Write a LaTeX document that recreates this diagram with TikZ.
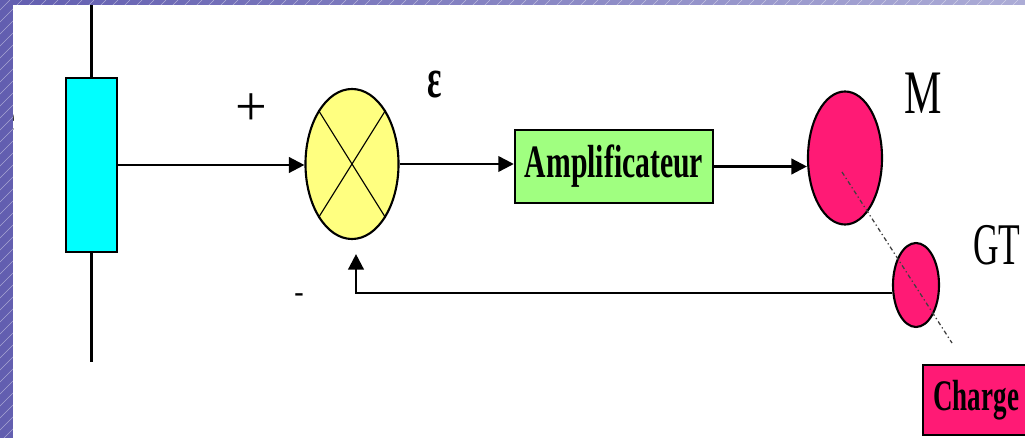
\documentclass[tikz,border=0pt]{standalone}
\usepackage{fontspec}
\setmainfont{Liberation Serif}
\usetikzlibrary{shapes.geometric,arrows.meta,positioning}

\definecolor{framedark}{RGB}{98,94,176}
\definecolor{framelight}{RGB}{172,172,214}
\definecolor{sensorcyan}{RGB}{0,255,255}
\definecolor{sumyellow}{RGB}{255,255,128}
\definecolor{ampgreen}{RGB}{160,255,128}
\definecolor{motorpink}{RGB}{255,26,117}

\newcommand{\squeeze}[2][0.7]{\scalebox{#1}[1]{#2}}

\begin{document}
\begin{tikzpicture}[
    x=0.025cm, y=-0.025cm,
    block/.style={rectangle, draw, line width=1.7pt, inner sep=0pt},
    disc/.style={ellipse, draw, line width=1.5pt, inner sep=0pt},
    line/.style={draw, line width=1.7pt, -{Triangle[length=11pt,width=11pt]}},
    wire/.style={draw, line width=1.6pt},
    shaft/.style={draw, line width=0.9pt, black!75, dash dot},
    tag/.style={inner sep=0pt, font=\fontsize{40}{42}\selectfont}
]
    % page frame
    \clip (0,0) rectangle (1025,438);
    \shade[left color=framedark, right color=framelight] (0,0) rectangle (1025,438);
    \begin{scope}
        \clip (0,0) rectangle (1025,5) (0,0) rectangle (13,438);
        \foreach \k in {-440,-428,...,1030}
            \draw[white, opacity=0.45, line width=0.35pt] (\k,438) -- ++(438,-438);
    \end{scope}
    \fill[white] (13,5) rectangle (1025,438);
    \begin{scope}
        \clip (13,5) rectangle (1025,438);
        \node[tag, font=\fontsize{32}{34}\selectfont\bfseries] (cut) at (5,121) {e};
    \end{scope}

    \coordinate (top) at (91.5,5);
    \coordinate (foot) at (91.5,362);
    \draw[wire] (91.5,165) -- (top);
    \draw[wire] (91.5,165) -- (foot);

    \node[block, fill=sensorcyan, minimum width=1.275cm, minimum height=4.35cm] (in) at (91.5,165) {};
    \node[disc, fill=sumyellow, minimum width=2.325cm, minimum height=3.75cm] (sum) at (352,164) {};
    \draw[line width=0.8pt] (sum.58) -- (sum.238) (sum.122) -- (sum.302);
    \node[block, fill=ampgreen, minimum width=4.95cm, minimum height=1.825cm,
          font=\fontsize{33}{35}\selectfont\bfseries] (amp) at (614,166.5) {\squeeze[0.64]{Amplificateur}};
    \node[disc, fill=motorpink, minimum width=1.85cm, minimum height=3.325cm] (motor) at (845,158) {};
    \node[disc, fill=motorpink, minimum width=1.15cm, minimum height=2.1cm] (gt) at (916,285) {};
    \node[block, fill=motorpink, minimum width=2.65cm, minimum height=1.75cm, anchor=west,
          font=\fontsize{31}{33}\selectfont\bfseries] (load) at (922,400) {\squeeze[0.62]{Charge}};

    \path [line] (in) -- (in -| sum.west);
    \path [line] (sum) -- (sum -| amp.west);
    \path [line] (amp.east) -- (amp.east -| motor.west);
    \path [line] ([yshift=-0.2cm]gt.west) -| ([shift={(4,14)}]sum.south);

    % shaft through motor and tachometer
    \coordinate (shaftend) at (952,343);
    \draw[shaft] ([shift={(-3,14)}]motor.center) -- (shaftend);

    \node[tag, font=\fontsize{40}{42}\selectfont] (plus) at (251,110) {+};
    \node[tag, font=\fontsize{20}{22}\selectfont\bfseries] (minus) at (299,298) {-};
    \node[tag, font=\fontsize{40}{42}\selectfont\bfseries] (eps) at (435,85) {\squeeze[0.6]{ε}};
    \node[tag, font=\fontsize{44}{46}\selectfont] (mlabel) at (923,93) {\squeeze[0.68]{M}};
    \node[tag, font=\fontsize{42}{44}\selectfont] (gtlabel) at (997,245) {\squeeze[0.6]{GT}};
\end{tikzpicture}
\end{document}
